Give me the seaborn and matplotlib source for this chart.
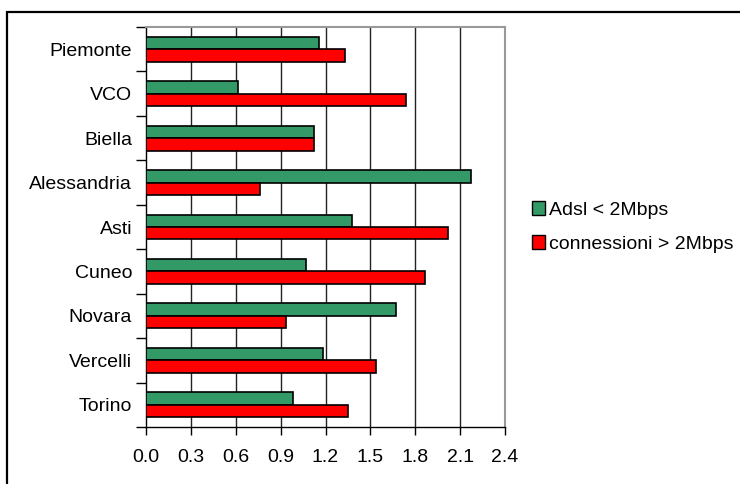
import matplotlib
matplotlib.use("Agg")
import matplotlib.pyplot as plt
import seaborn as sns
import pandas as pd
import numpy as np
from matplotlib.patches import Rectangle, Patch
from matplotlib.ticker import FixedLocator

regions = ["Piemonte", "VCO", "Biella", "Alessandria", "Asti", "Cuneo", "Novara", "Vercelli", "Torino"]
adsl = [1.155, 0.615, 1.12, 2.17, 1.38, 1.07, 1.67, 1.18, 0.98]
conn = [1.33, 1.74, 1.12, 0.76, 2.02, 1.865, 0.935, 1.535, 1.35]
series = ["Adsl < 2Mbps", "connessioni > 2Mbps"]
colors = ["#339966", "#FF0000"]
xticks = [0.0, 0.3, 0.6, 0.9, 1.2, 1.5, 1.8, 2.1, 2.4]

df = pd.DataFrame({
    "region": regions * 2,
    "value": adsl + conn,
    "series": [series[0]] * len(regions) + [series[1]] * len(regions),
})

sns.set_theme(style="white")
plt.rcParams["font.family"] = ["Liberation Sans", "DejaVu Sans"]
plt.rcParams["text.color"] = "black"
plt.rcParams["xtick.color"] = "black"
plt.rcParams["ytick.color"] = "black"

fig = plt.figure(figsize=(7.4, 4.84), dpi=100)
ax = fig.add_axes([146/740, 57/484, 359/740, 400/484])

sns.barplot(data=df, y="region", x="value", hue="series", order=regions,
            hue_order=series, palette=colors, orient="h", width=0.56, gap=0,
            edgecolor="black", linewidth=1.2, saturation=1, ax=ax, legend=False,
            zorder=3)

ax.set_xlim(0, 2.4)
ax.set_ylim(len(regions) - 0.5, -0.5)
ax.set_xticks(xticks)
ax.set_xticklabels([f"{t:.1f}" for t in xticks], fontsize=14, color="black")
ax.set_xlabel("")
ax.set_ylabel("")
ax.tick_params(axis="y", which="major", left=True, length=0, pad=10, labelsize=14, labelcolor="black")
ax.yaxis.set_minor_locator(FixedLocator(np.arange(-0.5, len(regions), 1.0)))
ax.tick_params(axis="y", which="minor", left=True, length=7, width=1, color="black", direction="out")
ax.tick_params(axis="x", which="major", bottom=True, length=6, width=1, color="black",
               direction="out", pad=10, labelcolor="black")

for t in xticks[1:-1]:
    ax.axvline(t, color="#222222", lw=1.0, zorder=1)

for s in ["left", "bottom"]:
    ax.spines[s].set_color("black")
    ax.spines[s].set_linewidth(1.0)
for s in ["top", "right"]:
    ax.spines[s].set_color("#999999")
    ax.spines[s].set_linewidth(1.5)

handles = [Patch(facecolor=c, edgecolor="black", linewidth=1.0) for c in colors]
fig.legend(handles, series, loc="center left", bbox_to_anchor=(524/740, 1 - 227/484),
           frameon=False, fontsize=14, handlelength=0.7, handleheight=0.7,
           handletextpad=0.2, labelspacing=0.85, borderaxespad=0)

fig.patches.append(Rectangle((7/740, -0.2), 1.2, 1.2 - 12/484,
                             transform=fig.transFigure, fill=False,
                             edgecolor="black", linewidth=1.6, clip_on=False))

fig.savefig("out.png", dpi=100)
